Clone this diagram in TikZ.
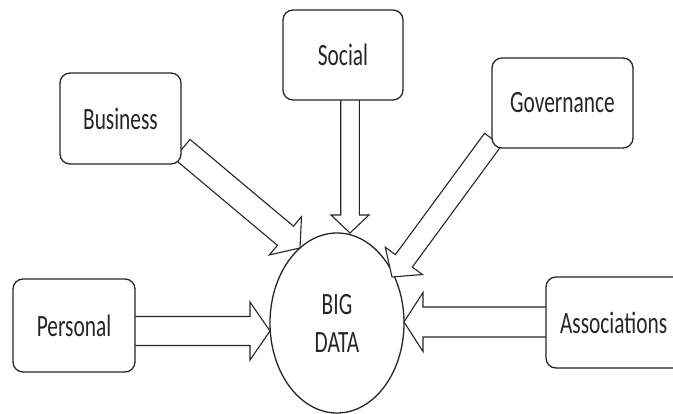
\documentclass[tikz,border=0pt]{standalone}
\usepackage{fontspec}
\setmainfont{Carlito}[FakeStretch=0.69]
\usetikzlibrary{calc,shapes.geometric}
\tikzset{
  boxnode/.style={draw=black!85, line width=1.3pt, rounded corners=10pt, fill=white,
    inner sep=0pt, font=\fontsize{31}{36}\selectfont, text=black!85},
  bignode/.style={draw=black!85, line width=1.3pt, ellipse, fill=white, inner sep=0pt,
    minimum width=134pt, minimum height=180pt, align=center,
    font=\fontsize{31}{38}\selectfont, text=black!85},
  arrowbox/.style={draw=black!85, line width=1.1pt, fill=white, line join=miter}
}
% #1 start, #2 tip, #3 half shaft, #4 half head, #5 head length
\newcommand{\blockarrow}[5]{%
  \coordinate (hb) at ($(#2)!#5!(#1)$);
  \draw[arrowbox] ($(#1)!#3!90:(#2)$) -- ($(hb)!#3!-90:(#1)$) -- ($(hb)!#4!-90:(#1)$)
    -- (#2) -- ($(hb)!#4!90:(#1)$) -- ($(hb)!#3!90:(#1)$) -- ($(#1)!#3!-90:(#2)$) -- cycle;
}
\begin{document}
\begin{tikzpicture}[x=1pt,y=-1pt]
\useasboundingbox (0,0) rectangle (673,414);
\clip (0,0) rectangle (673,414);
\fill[white] (0,0) rectangle (673,414);
% centre
\node[bignode] (bd) at (337,323) {BIG\\DATA};
% arrow ends
\coordinate (sS) at (350,95);   \coordinate (tS) at (350,233);
\coordinate (sB) at (182,149);  \coordinate (tB) at (300,248);
\coordinate (sG) at (493,139.5);\coordinate (tG) at (392,277);
\coordinate (sP) at (125,331);  \coordinate (tP) at (270,331);
\coordinate (sA) at (555,322);  \coordinate (tA) at (404,322);
\blockarrow{sS}{tS}{9.3pt}{19pt}{18pt}
\blockarrow{sB}{tB}{12.5pt}{25pt}{19pt}
\blockarrow{sG}{tG}{10.5pt}{23pt}{20pt}
\blockarrow{sP}{tP}{14.5pt}{29pt}{20pt}
\blockarrow{sA}{tA}{15pt}{29.5pt}{19pt}
% sources
\node[boxnode, minimum width=120pt, minimum height=90pt] (social) at (343,55) {Social};
\node[boxnode, minimum width=121pt, minimum height=91pt] (business) at (120.5,118.5) {Business};
\node[boxnode, minimum width=141pt, minimum height=90pt] (gov) at (562.5,103) {Governance};
\node[boxnode, minimum width=122pt, minimum height=93pt] (personal) at (74,325.5) {Personal};
\node[boxnode, minimum width=140pt, minimum height=91pt, text width=134pt, align=left] (assoc) at (616,322.5) {\hspace*{11pt}Associations};
\end{tikzpicture}
\end{document}
